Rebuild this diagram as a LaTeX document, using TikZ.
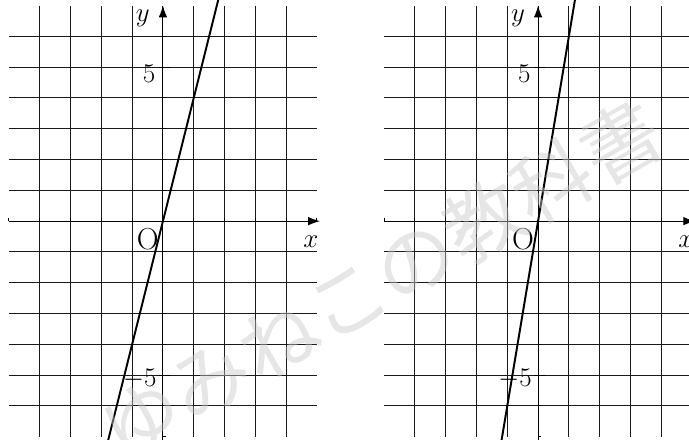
\documentclass[tikz,border=0pt]{standalone}
\usepackage{fontspec}
\newfontfamily\jpfont{Noto Sans CJK JP}
\usetikzlibrary{arrows.meta}

\begin{document}
\begin{tikzpicture}[
  gridline/.style={line width=1pt, black!90},
  axis/.style={line width=1pt, -{Latex[length=11pt, width=8pt]}},
  graph/.style={line width=1.8pt},
  tick/.style={line width=1pt},
  lbl/.style={font=\fontsize{28}{32}\selectfont, inner sep=0pt},
  numlbl/.style={font=\fontsize{25}{29}\selectfont, inner sep=0pt},
]
  \useasboundingbox (-5.29,-7.08) rectangle (17.08,7.18);
  \clip (-5.29,-7.08) rectangle (17.08,7.18);

  \foreach \ox/\k/\nm in {0/4/left, 12.18/6/right} {
    \begin{scope}[xshift=\ox cm]
      % grid
      \foreach \i in {-6,...,6} \draw[gridline] (-5,\i) -- (5,\i);
      \foreach \i in {-4,...,4} \draw[gridline] (\i,-7) -- (\i,7);
      % axes
      \coordinate (\nm-xs) at (-5,0);
      \coordinate (\nm-xe) at (5.1,0);
      \coordinate (\nm-ys) at (0,-7.3);
      \coordinate (\nm-ye) at (0,7);
      \draw[axis] (\nm-xs) -- (\nm-xe);
      \draw[axis] (\nm-ys) -- (\nm-ye);
      \foreach \i in {-7,...,6} \draw[tick] (0,\i) -- (0.1,\i);
      \foreach \i in {-5,...,5} \draw[tick] (\i,0) -- (\i,0.1);
      \draw[tick] (-0.13,5) -- (0.23,5);
      \draw[tick] (-0.13,-5) -- (0.23,-5);
      % line
      \coordinate (\nm-a) at ({-7.4/\k},-7.4);
      \coordinate (\nm-b) at ({7.4/\k},7.4);
      \draw[graph] (\nm-a) -- (\nm-b);
      % labels
      \node[lbl] (\nm-y) at (-0.65,6.6) {$y$};
      \node[lbl] (\nm-x) at (4.8,-0.68) {$x$};
      \node[lbl] (\nm-o) at (-0.49,-0.58) {O};
      \node[numlbl] (\nm-p5) at (-0.45,4.8) {5};
      \node[numlbl] (\nm-m5) at (-0.75,-5.13) {$-5$};
    \end{scope}
  }

  % watermark
  \node[font=\jpfont\fontsize{73}{73}\selectfont, text=black!22,
        opacity=0.45, rotate=30] (mark-text) at (7.08,-1.92) {ゆみねこの教科書};
\end{tikzpicture}
\end{document}
